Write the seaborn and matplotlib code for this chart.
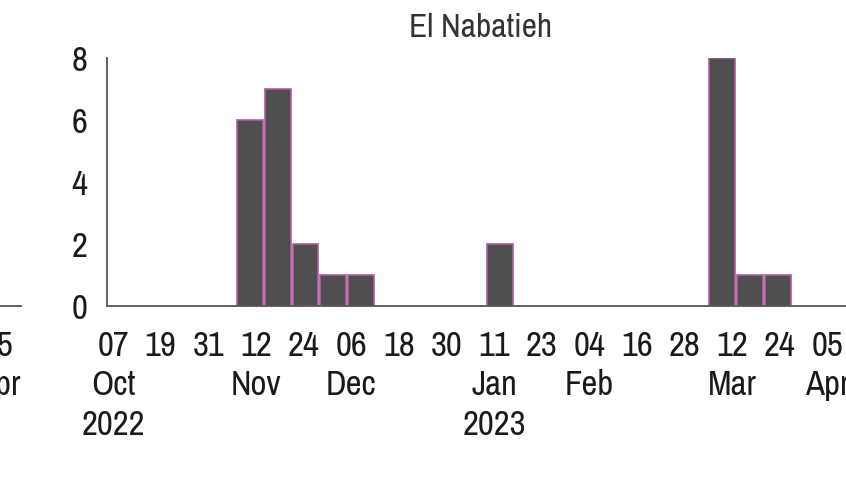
import numpy as np
import pandas as pd
import matplotlib
matplotlib.use("Agg")
import matplotlib.pyplot as plt
import matplotlib.dates as mdates
import seaborn as sns

# data (weekly case counts)
title = "El Nabatieh"
week_start = ["2022-11-07", "2022-11-14", "2022-11-21", "2022-11-28", "2022-12-05",
              "2023-01-09", "2023-03-06", "2023-03-13", "2023-03-20"]
cases = [6, 7, 2, 1, 1, 2, 8, 1, 1]

tick_dates = ["2022-10-07", "2022-10-19", "2022-10-31", "2022-11-12", "2022-11-24",
              "2022-12-06", "2022-12-18", "2022-12-30", "2023-01-11", "2023-01-23",
              "2023-02-04", "2023-02-16", "2023-02-28", "2023-03-12", "2023-03-24",
              "2023-04-05"]
tick_labels = ["07\nOct\n2022", "19", "31", "12\nNov", "24", "06\nDec", "18", "30",
               "11\nJan\n2023", "23", "04\nFeb", "16", "28", "12\nMar", "24", "05\nApr"]
y_ticks = [0, 2, 4, 6, 8]

sns.set_theme(style="white")
plt.rcParams['font.family'] = ['Archivo Narrow', 'PT Sans Narrow', 'Roboto Condensed', 'DejaVu Sans']

W, H = 846, 492
PX_PER_DAY = 3.97
fig = plt.figure(figsize=(W / 100, H / 100), dpi=100)

ticks_num = mdates.date2num(pd.to_datetime(tick_dates))
start = ticks_num[0]


def style_axis(ax, right_days):
    # x range: 1.5 days before first tick up to right_days after it
    ax.set_xlim(start - 1.5, start + right_days)
    ax.set_ylim(0, 8)
    ax.set_xticks(ticks_num)
    ax.set_xticklabels(tick_labels, fontsize=25, color="#1a1a1a", linespacing=1.3)
    ax.tick_params(axis="x", length=0, pad=17)
    for s in ["top", "right"]:
        ax.spines[s].set_visible(False)
    for s in ["left", "bottom"]:
        ax.spines[s].set_color("#555555")
        ax.spines[s].set_linewidth(1.3)


# partial panel on the left (cropped in the reference)
w0 = (180 + 1.5 + 5.8) * PX_PER_DAY
ax0 = fig.add_axes([(21 - w0) / W, (H - 306) / H, w0 / W, 248 / H])
style_axis(ax0, 185.8)
ax0.set_yticks([])
ax0.set_facecolor("none")

# main panel
w1 = (1.5 + 190.7) * PX_PER_DAY
ax = fig.add_axes([107 / W, (H - 306) / H, w1 / W, 248 / H])
ax.set_facecolor("none")

week_num = mdates.date2num(pd.to_datetime(week_start))
df = pd.DataFrame({"mid": week_num + 3.5, "cases": cases})
sns.histplot(data=df, x="mid", weights="cases", binwidth=7,
             binrange=(week_num.min(), week_num.max() + 7), shrink=0.93,
             color="#4f4f4f", edgecolor="#b35aa6", linewidth=1.2, alpha=1, ax=ax)
for p in list(ax.patches):
    if p.get_height() == 0:
        p.remove()

style_axis(ax, 190.7)
ax.set_yticks(y_ticks)
ax.set_yticklabels([str(v) for v in y_ticks], fontsize=25, color="#1a1a1a")
ax.tick_params(axis="y", length=0, pad=14)
ax.set_xlabel("")
ax.set_ylabel("")

fig.text(481 / W, 1 - 28 / H, title, ha="center", va="center", fontsize=24, color="#333333")

fig.savefig("out.png", dpi=100)
